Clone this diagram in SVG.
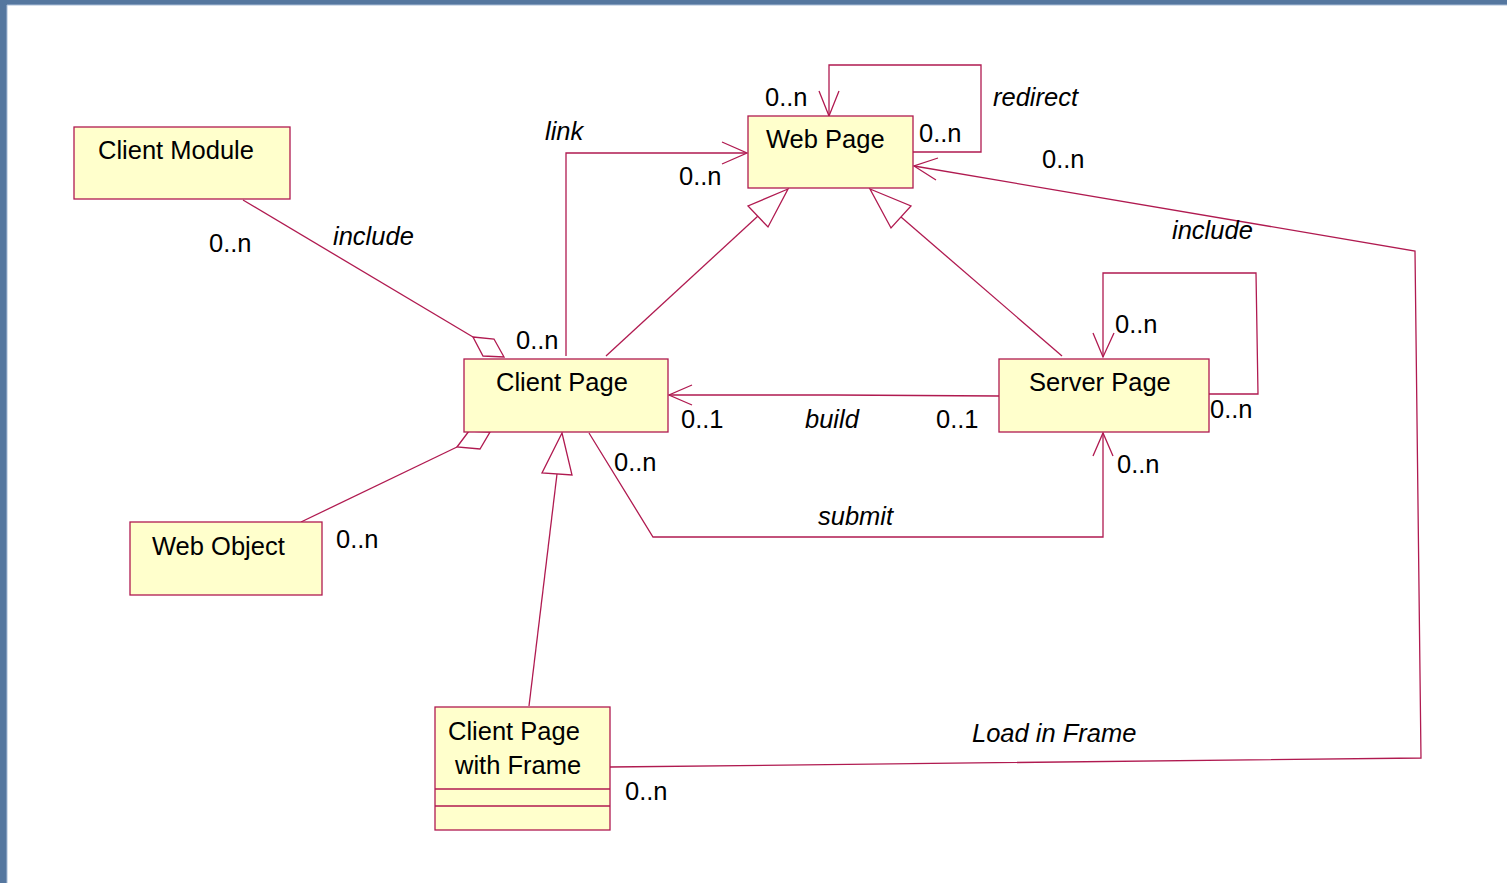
<svg xmlns="http://www.w3.org/2000/svg" width="1507" height="883" viewBox="0 0 1507 883">
<style>
.bg{fill:#ffffff}
.frame{fill:#55779f}
.box{fill:#ffffcc;stroke:#b01a50;stroke-width:1.3}
.ln{fill:none;stroke:#b01a50;stroke-width:1.3}
.hd{fill:#ffffff;stroke:#b01a50;stroke-width:1.3}
.t{font-family:"Liberation Sans",Arial,sans-serif;font-size:25.5px;fill:#000}
.i{font-family:"Liberation Sans",Arial,sans-serif;font-size:25.5px;font-style:italic;fill:#000}
</style>
<rect class="bg" x="0" y="0" width="1507" height="883"/>
<rect class="frame" x="0" y="0" width="1507" height="5"/>
<rect class="frame" x="0" y="0" width="7" height="883"/>
<line x1="7" y1="5" x2="1507" y2="5" stroke="#a9bdd6" stroke-width="1"/>
<line x1="7" y1="5" x2="7" y2="883" stroke="#a9bdd6" stroke-width="1"/>

<g id="connectors">
  <line class="ln" x1="243" y1="200" x2="473" y2="337"/>
  <polygon class="hd" points="473,337 494,339 504,357 483,356"/>
  <line class="ln" x1="301" y1="522" x2="457" y2="447"/>
  <polygon class="hd" points="457,447 469,431 490,432 480,449"/>
  <line class="ln" x1="606" y1="356" x2="758" y2="216"/>
  <polygon class="hd" points="788,189 748,206 768,227"/>
  <line class="ln" x1="1062" y1="356" x2="901" y2="217"/>
  <polygon class="hd" points="870,189 911,206 891,228"/>
  <line class="ln" x1="529" y1="706" x2="557" y2="474"/>
  <polygon class="hd" points="562,433 542,473 572,475"/>
  <polyline class="ln" points="566,356 566,153 746,153"/>
  <polyline class="ln" points="722,142 747,153 722,164"/>
  <polyline class="ln" points="913,152 981,152 981,65 829,65 829,116"/>
  <polyline class="ln" points="819,91 829,116 839,91"/>
  <polyline class="ln" points="610,767 1421,758 1415,251 914,166"/>
  <polyline class="ln" points="938,158 914,166 936,180"/>
  <polyline class="ln" points="999,396 835,395 669,395"/>
  <polyline class="ln" points="692,385 669,395 692,405"/>
  <polyline class="ln" points="589,433 653,537 1103,537 1103,433"/>
  <polyline class="ln" points="1093,456 1103,433 1113,456"/>
  <polyline class="ln" points="1209,394 1258,394 1256,273 1103,273 1103,357"/>
  <polyline class="ln" points="1093,333 1103,357 1114,333"/>
</g>

<g id="client-module">
  <rect class="box" x="74" y="127" width="216" height="72"/>
  <text class="t" x="98" y="159">Client Module</text>
</g>
<g id="web-page">
  <rect class="box" x="748" y="116" width="165" height="72"/>
  <text class="t" x="766" y="148">Web Page</text>
</g>
<g id="client-page">
  <rect class="box" x="464" y="359" width="204" height="73"/>
  <text class="t" x="496" y="391">Client Page</text>
</g>
<g id="server-page">
  <rect class="box" x="999" y="359" width="210" height="73"/>
  <text class="t" x="1029" y="391">Server Page</text>
</g>
<g id="web-object">
  <rect class="box" x="130" y="522" width="192" height="73"/>
  <text class="t" x="152" y="555">Web Object</text>
</g>
<g id="client-page-with-frame">
  <rect class="box" x="435" y="707" width="175" height="123"/>
  <line class="ln" x1="435" y1="789" x2="610" y2="789"/>
  <line class="ln" x1="435" y1="806" x2="610" y2="806"/>
  <text class="t" x="448" y="740">Client Page</text>
  <text class="t" x="455" y="774">with Frame</text>
</g>

<g id="labels">
  <text class="t" x="765" y="106">0..n</text>
  <text class="i" x="993" y="106">redirect</text>
  <text class="t" x="919" y="142">0..n</text>
  <text class="t" x="1042" y="168">0..n</text>
  <text class="i" x="545" y="140">link</text>
  <text class="t" x="679" y="185">0..n</text>
  <text class="i" x="333" y="245">include</text>
  <text class="t" x="209" y="252">0..n</text>
  <text class="i" x="1172" y="239">include</text>
  <text class="t" x="516" y="349">0..n</text>
  <text class="t" x="1115" y="333">0..n</text>
  <text class="t" x="681" y="428">0..1</text>
  <text class="i" x="805" y="428">build</text>
  <text class="t" x="936" y="428">0..1</text>
  <text class="t" x="1210" y="418">0..n</text>
  <text class="t" x="614" y="471">0..n</text>
  <text class="t" x="1117" y="473">0..n</text>
  <text class="i" x="818" y="525">submit</text>
  <text class="t" x="336" y="548">0..n</text>
  <text class="i" x="972" y="742">Load in Frame</text>
  <text class="t" x="625" y="800">0..n</text>
</g>
</svg>
